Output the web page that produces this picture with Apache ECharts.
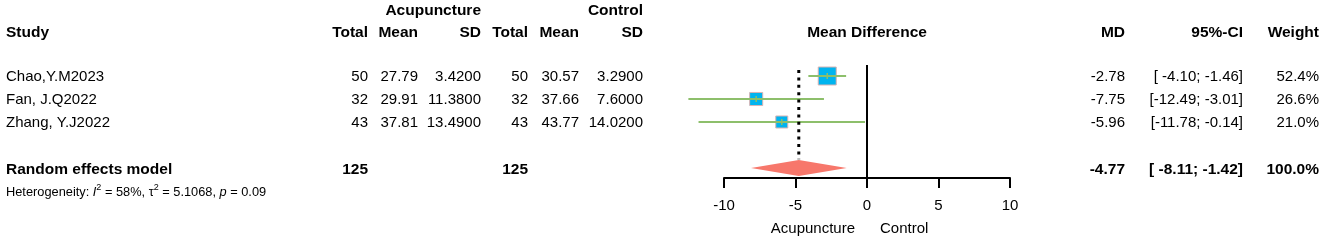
<!DOCTYPE html>
<html><head><meta charset="utf-8">
<script src="https://cdn.jsdelivr.net/npm/echarts@6/dist/echarts.min.js"></script>
<style>html,body{margin:0;padding:0;background:#fff}#c{width:1325px;height:244px}</style>
</head><body><div id="c"></div>
<script>
// ---- data ----
var studies   = ['Chao,Y.M2023', 'Fan, J.Q2022', 'Zhang, Y.J2022'];
var expTotal  = [50, 32, 43];
var expMean   = ['27.79', '29.91', '37.81'];
var expSD     = ['3.4200', '11.3800', '13.4900'];
var ctrlTotal = [50, 32, 43];
var ctrlMean  = ['30.57', '37.66', '43.77'];
var ctrlSD    = ['3.2900', '7.6000', '14.0200'];
var md        = [-2.78, -7.75, -5.96];
var ciLow     = [-4.10, -12.49, -11.78];
var ciHigh    = [-1.46, -3.01, -0.14];
var weights   = [52.4, 26.6, 21.0];
var pooled    = {md: -4.77, low: -8.11, high: -1.42, expTotal: 125, ctrlTotal: 125, weight: 100.0};
var xTicks    = [-10, -5, 0, 5, 10];
var hetText   = {i2: '58%', tau2: '5.1068', p: '0.09'};
var studyRows = [1, 2, 3];
var pooledRow = 5;

var FONT = "'Liberation Sans', Arial, sans-serif";
var chart = echarts.init(document.getElementById('c'), null, {renderer: 'canvas'});

var studyData = studies.map(function (s, i) { return [md[i], studyRows[i], ciLow[i], ciHigh[i], weights[i]]; });
var maxW = Math.max.apply(null, weights);

chart.setOption({
  animation: false,
  grid: {left: 724, width: 286, top: 53, height: 125},
  xAxis: {
    type: 'value', min: xTicks[0], max: xTicks[xTicks.length - 1], interval: 5,
    splitLine: {show: false},
    axisLine: {show: true, onZero: false, lineStyle: {color: '#000', width: 2}},
    axisTick: {show: true, length: 10, lineStyle: {color: '#000', width: 2}},
    axisLabel: {color: '#000', fontSize: 15, fontFamily: FONT, margin: 20}
  },
  yAxis: {type: 'value', min: 0, max: 125 / 23, inverse: true, show: false},
  series: [
    {
      type: 'line', data: [[0, 0.52], [0, 125 / 23]], symbol: 'none', silent: true,
      lineStyle: {color: '#000', width: 2}
    },
    {
      type: 'line', data: [[pooled.md, 0.74], [pooled.md, 4.62]], symbol: 'none', silent: true,
      lineStyle: {color: '#000', width: 3, type: [3, 4.4]}
    },
    {
      type: 'custom', data: studyData, clip: false,
      renderItem: function (params, api) {
        var c = api.coord([api.value(0), api.value(1)]);
        var l = api.coord([api.value(2), api.value(1)]);
        var h = api.coord([api.value(3), api.value(1)]);
        var s = 8 + 10 * api.value(4) / maxW;
        return {type: 'group', children: [
          {type: 'rect', shape: {x: c[0] - s / 2, y: c[1] - s / 2, width: s, height: s},
           style: {fill: '#00B4EF', stroke: '#D8B4B4', lineWidth: 1}},
          {type: 'line', shape: {x1: l[0], y1: c[1], x2: h[0], y2: c[1]},
           style: {stroke: '#8DBF6B', lineWidth: 2}},
          {type: 'line', shape: {x1: c[0], y1: c[1] - 3, x2: c[0], y2: c[1] + 3},
           style: {stroke: '#8DBF6B', lineWidth: 1.5}}
        ]};
      }
    },
    {
      type: 'custom', data: [[pooled.md, pooledRow, pooled.low, pooled.high]], clip: false,
      renderItem: function (params, api) {
        var c = api.coord([api.value(0), api.value(1)]);
        var l = api.coord([api.value(2), api.value(1)]);
        var h = api.coord([api.value(3), api.value(1)]);
        return {type: 'polygon', shape: {points: [[l[0], c[1]], [c[0], c[1] - 8], [h[0], c[1]], [c[0], c[1] + 8]]},
                style: {fill: '#F7776B'}};
      }
    }
  ]
});

function yOf(row) { return chart.convertToPixel({gridIndex: 0}, [0, row])[1]; }
function xOf(v) { return chart.convertToPixel({gridIndex: 0}, [v, 0])[0]; }

var g = [];
function txt(str, x, y, align, bold, size) {
  g.push({type: 'text', x: x, y: y, silent: true,
    style: {text: String(str), fill: '#000', font: (bold ? 'bold ' : '') + (size || (bold ? 15.5 : 15)) + 'px ' + FONT,
            textAlign: align, textVerticalAlign: 'middle'}});
}
function pad(s, n) { while (s.length < n) s = ' ' + s; return s; }
function ci(lo, hi) { return '[' + pad(lo.toFixed(2), 6) + '; ' + hi.toFixed(2) + ']'; }

var cols = {study: 6, eT: 368, eM: 418, eS: 481, cT: 528, cM: 579, cS: 643, md: 1125, ci: 1243, w: 1319};
// headers
txt('Acupuncture', cols.eS, 11, 'right', true);
txt('Control', cols.cS, 11, 'right', true);
txt('Study', cols.study, 33, 'left', true);
txt('Total', cols.eT, 33, 'right', true);
txt('Mean', cols.eM, 33, 'right', true);
txt('SD', cols.eS, 33, 'right', true);
txt('Total', cols.cT, 33, 'right', true);
txt('Mean', cols.cM, 33, 'right', true);
txt('SD', cols.cS, 33, 'right', true);
txt('Mean Difference', xOf(0), 33, 'center', true);
txt('MD', cols.md, 33, 'right', true);
txt('95%-CI', cols.ci, 33, 'right', true);
txt('Weight', cols.w, 33, 'right', true);

studies.forEach(function (s, i) {
  var y = yOf(studyRows[i]) + 0.5;
  txt(s, cols.study, y, 'left');
  txt(expTotal[i], cols.eT, y, 'right');
  txt(expMean[i], cols.eM, y, 'right');
  txt(expSD[i], cols.eS, y, 'right');
  txt(ctrlTotal[i], cols.cT, y, 'right');
  txt(ctrlMean[i], cols.cM, y, 'right');
  txt(ctrlSD[i], cols.cS, y, 'right');
  txt(md[i].toFixed(2), cols.md, y, 'right');
  txt(ci(ciLow[i], ciHigh[i]), cols.ci, y, 'right');
  txt(weights[i].toFixed(1) + '%', cols.w, y, 'right');
});

var yp = yOf(pooledRow) + 1.5;
txt('Random effects model', cols.study, yp, 'left', true);
txt(pooled.expTotal, cols.eT, yp, 'right', true);
txt(pooled.ctrlTotal, cols.cT, yp, 'right', true);
txt(pooled.md.toFixed(2), cols.md, yp, 'right', true);
txt(ci(pooled.low, pooled.high), cols.ci, yp, 'right', true);
txt(pooled.weight.toFixed(1) + '%', cols.w, yp, 'right', true);

g.push({type: 'text', x: 6, y: 192, silent: true, style: {
  text: '{a|Heterogeneity: }{i|I}{s|2}{a| = ' + hetText.i2 + ', τ}{s|2}{a| = ' + hetText.tau2 + ', }{i|p}{a| = ' + hetText.p + '}',
  textVerticalAlign: 'middle', textAlign: 'left',
  rich: {
    a: {fontSize: 12.8, fontFamily: FONT, color: '#000'},
    i: {fontSize: 12.8, fontFamily: FONT, fontStyle: 'italic', color: '#000'},
    s: {fontSize: 9, fontFamily: FONT, color: '#000', padding: [0, 0, 9, 0]}
  }}});

txt('Acupuncture', xOf(0) - 12, 229, 'right');
txt('Control', xOf(0) + 13, 229, 'left');

chart.setOption({graphic: g});
</script>
</body></html>
